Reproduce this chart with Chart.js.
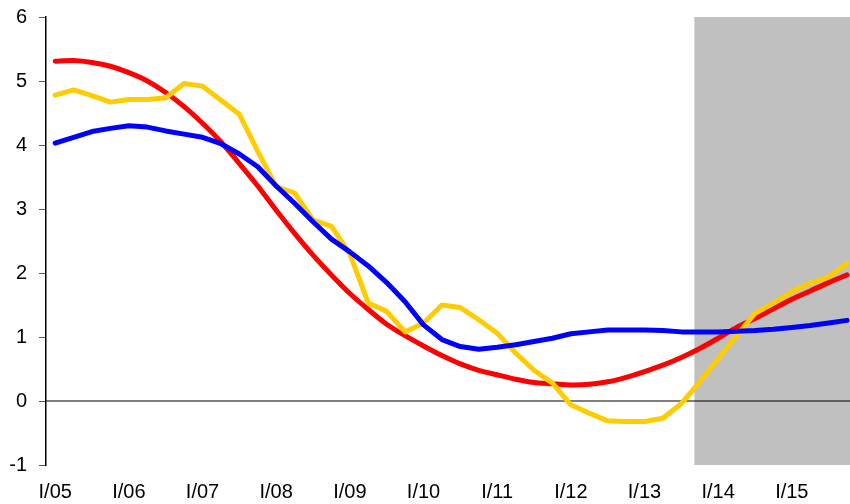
<!DOCTYPE html>
<html>
<head>
<meta charset="utf-8">
<script src="https://cdn.jsdelivr.net/npm/chart.js@4"></script>
<style>
  html, body { margin: 0; padding: 0; background: #fff; }
  #wrap { width: 850px; height: 504px; }
</style>
</head>
<body>
<div id="wrap"><canvas id="chart" width="850" height="504"></canvas></div>
<script>
// quarterly series, I/05 .. IV/15 (44 quarters)
const red = [5.31, 5.32, 5.29, 5.23, 5.13, 5.00, 4.82, 4.60, 4.34, 4.05,
             3.71, 3.36, 2.98, 2.62, 2.28, 1.97, 1.68, 1.43, 1.20, 1.02,
             0.86, 0.71, 0.58, 0.48, 0.41, 0.34, 0.29, 0.27, 0.25, 0.26,
             0.30, 0.37, 0.46, 0.56, 0.68, 0.82, 0.98, 1.15, 1.29, 1.44,
             1.59, 1.72, 1.85, 1.97];
const yellow = [4.78, 4.86, 4.77, 4.67, 4.71, 4.71, 4.74, 4.96, 4.92, 4.70,
                4.48, 3.90, 3.35, 3.25, 2.83, 2.73, 2.30, 1.53, 1.40, 1.08,
                1.22, 1.50, 1.46, 1.27, 1.06, 0.75, 0.48, 0.28, -0.06, -0.19,
                -0.31, -0.32, -0.32, -0.27, -0.04, 0.30, 0.66, 1.02, 1.37, 1.53,
                1.71, 1.84, 1.94, 2.15];
const blue = [4.03, 4.12, 4.21, 4.26, 4.30, 4.28, 4.22, 4.17, 4.12, 4.02,
              3.86, 3.66, 3.36, 3.09, 2.80, 2.53, 2.33, 2.11, 1.85, 1.55,
              1.19, 0.96, 0.85, 0.81, 0.84, 0.88, 0.93, 0.98, 1.05, 1.08,
              1.11, 1.11, 1.11, 1.10, 1.08, 1.08, 1.08, 1.09, 1.10, 1.12,
              1.15, 1.18, 1.22, 1.26];
const xTickLabels = ['I/05', 'I/06', 'I/07', 'I/08', 'I/09', 'I/10',
                     'I/11', 'I/12', 'I/13', 'I/14', 'I/15'];
const forecastStart = 34.7;   // shaded forecast period starts late 2013

const xMin = -0.5, xMax = 43.16;
const yMin = -1, yMax = 6;

const toPoints = arr => arr.map((v, i) => ({ x: i, y: v }));

const lineStyle = {
    borderWidth: 5,
    pointRadius: 0,
    fill: false,
    borderCapStyle: 'round',
    borderJoinStyle: 'round',
};

new Chart(document.getElementById('chart'), {
    type: 'line',
    data: {
        datasets: [
            {
                data: [{ x: forecastStart, y: yMax }, { x: xMax, y: yMax }],
                borderWidth: 0,
                pointRadius: 0,
                backgroundColor: '#c0c0c0',
                fill: { value: yMin },
                order: 5,
            },
            {
                data: [{ x: xMin, y: 0 }, { x: xMax, y: 0 }],
                borderColor: '#000',
                borderWidth: 1.2,
                pointRadius: 0,
                fill: false,
                order: 4,
            },
            { ...lineStyle, data: toPoints(red), borderColor: '#ff0000', tension: 0.2, order: 3 },
            { ...lineStyle, data: toPoints(yellow), borderColor: '#ffcc00', tension: 0, order: 2 },
            { ...lineStyle, data: toPoints(blue), borderColor: '#0000ff', tension: 0, order: 1 },
        ]
    },
    options: {
        responsive: false,
        animation: false,
        layout: { padding: { left: 9, top: 17, right: 0, bottom: 0 } },
        plugins: { legend: { display: false }, tooltip: { enabled: false } },
        scales: {
            x: {
                type: 'linear',
                min: xMin,
                max: xMax,
                afterBuildTicks: axis => {
                    axis.ticks = xTickLabels.map((_, i) => ({ value: i * 4 }));
                },
                afterFit: axis => {
                    axis.height = 39;
                    axis.paddingLeft = 0;
                    axis.paddingRight = 0;
                },
                ticks: {
                    autoSkip: false,
                    maxRotation: 0,
                    padding: 15,
                    color: '#000',
                    font: { family: 'Liberation Sans', size: 20 },
                    callback: (v, i) => xTickLabels[i],
                },
                grid: { display: false, drawTicks: false },
                border: { display: false },
            },
            y: {
                min: yMin,
                max: yMax,
                afterFit: axis => {
                    axis.width = 37;
                    axis.paddingTop = 0;
                    axis.paddingBottom = 0;
                },
                ticks: {
                    stepSize: 1,
                    padding: 12,
                    color: '#000',
                    font: { family: 'Liberation Sans', size: 20 },
                },
                grid: {
                    drawOnChartArea: false,
                    drawTicks: true,
                    tickLength: 7,
                    tickColor: '#555',
                },
                border: { display: true, color: '#000', width: 1.5 },
            }
        }
    }
});
</script>
</body>
</html>
